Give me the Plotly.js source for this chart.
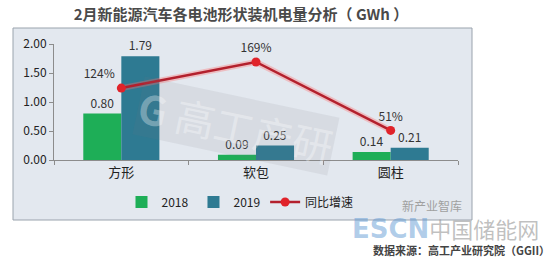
<!DOCTYPE html>
<html>
<head>
<meta charset="utf-8">
<script src="https://cdn.plot.ly/plotly-3.0.1.min.js"></script>
<style>
html,body{margin:0;padding:0;background:#fff;}
#chart{width:556px;height:257px;}
</style>
</head>
<body>
<div id="chart"></div>
<script>
const categories = ['方形', '软包', '圆柱'];
const values2018 = [0.80, 0.09, 0.14];
const values2019 = [1.79, 0.25, 0.21];
const growthPct = [124, 169, 51];
const yTicks = [0, 0.5, 1.0, 1.5, 2.0];

const FONT = '"Noto Sans CJK SC", "Noto Sans", sans-serif';

const traces = [
  {
    type: 'bar', name: '2018', x: categories, y: values2018,
    marker: {color: '#1eae57'},
    text: values2018.map(v => v.toFixed(2)), textposition: 'outside',
    textfont: {size: 12, color: '#333', family: FONT},
    cliponaxis: false, hoverinfo: 'skip'
  },
  {
    type: 'bar', name: '2019', x: categories, y: values2019,
    marker: {color: '#2e7a92'},
    text: values2019.map(v => v.toFixed(2)), textposition: 'outside',
    textfont: {size: 12, color: '#333', family: FONT},
    cliponaxis: false, hoverinfo: 'skip'
  },
  {
    type: 'scatter', mode: 'lines', x: categories, y: growthPct, yaxis: 'y2',
    line: {color: 'rgba(255,110,110,0.35)', width: 6},
    showlegend: false, hoverinfo: 'skip', cliponaxis: false
  },
  {
    type: 'scatter', mode: 'lines+markers+text', name: '同比增速',
    x: categories, y: growthPct, yaxis: 'y2',
    line: {color: '#b3202d', width: 2.5},
    marker: {color: '#e0232a', size: 9},
    text: growthPct.map(v => v + '%'),
    textposition: ['top left', 'top center', 'top center'],
    textfont: {size: 12, color: '#333', family: FONT},
    cliponaxis: false, hoverinfo: 'skip'
  }
];

const px = x => (x - 54) / 404;
const py = y => (160 - y) / 116;

const layout = {
  width: 556, height: 257,
  margin: {l: 54, r: 98, t: 44, b: 97},
  paper_bgcolor: '#ffffff',
  plot_bgcolor: 'rgba(0,0,0,0)',
  font: {family: FONT, color: '#333', size: 12},
  title: {
    text: '<b>2月新能源汽车各电池形状装机电量分析（ GWh ）</b>',
    font: {size: 15, color: '#4a4a4a', family: FONT},
    x: 241 / 556, xanchor: 'center', y: 1 - 15 / 257, yanchor: 'middle'
  },
  barmode: 'group', bargap: 0.435, bargroupgap: 0,
  xaxis: {
    showline: true, linecolor: '#8c8c8c', linewidth: 1,
    ticks: 'outside', tickson: 'boundaries', ticklen: 4, tickcolor: '#8c8c8c',
    tickfont: {size: 13, color: '#222', family: FONT},
    showgrid: false, zeroline: false, fixedrange: true
  },
  yaxis: {
    range: [0, 2], tickvals: yTicks, ticktext: yTicks.map(v => v.toFixed(2)),
    showline: true, linecolor: '#8c8c8c', linewidth: 1,
    ticks: 'outside', ticklen: 4, tickcolor: '#8c8c8c',
    tickfont: {size: 12, color: '#222', family: FONT},
    showgrid: false, zeroline: false, fixedrange: true
  },
  yaxis2: {
    overlaying: 'y', side: 'right', range: [0, 200], visible: false, fixedrange: true
  },
  legend: {
    orientation: 'h', x: px(240), xanchor: 'center', y: py(202), yanchor: 'middle',
    font: {size: 12, color: '#222', family: FONT}, bgcolor: 'rgba(0,0,0,0)',
    traceorder: 'normal', itemwidth: 30
  },
  shapes: [
    {
      type: 'rect', xref: 'paper', yref: 'paper', layer: 'below',
      x0: px(13), x1: px(472), y0: py(220), y1: py(28),
      fillcolor: '#e3e8ef', line: {color: '#9aa3ad', width: 1}
    }
  ],
  annotations: [
    {
      xref: 'paper', yref: 'paper', x: px(236), y: py(126),
      xanchor: 'center', yanchor: 'middle',
      text: '<b>G</b> 高工产研', showarrow: false, textangle: 12,
      font: {size: 40, color: 'rgba(255,255,255,0.32)', family: FONT},
      bgcolor: 'rgba(115,115,130,0.11)', borderpad: 0
    },
    {
      xref: 'paper', yref: 'paper', x: px(432), y: py(205),
      xanchor: 'center', yanchor: 'middle',
      text: '新产业智库', showarrow: false,
      font: {size: 12, color: '#a0a0a0', family: FONT}
    },
    {
      xref: 'paper', yref: 'paper', x: px(350), y: py(228),
      xanchor: 'left', yanchor: 'middle',
      text: '<span style="color:rgba(90,150,210,0.8);font-weight:bold;font-family:DejaVu Sans">ESCN</span><span style="font-size:22px">中国储能网</span>',
      showarrow: false,
      font: {size: 26, color: 'rgba(150,150,150,0.6)', family: FONT}
    },
    {
      xref: 'paper', yref: 'paper', x: px(552), y: py(250),
      xanchor: 'right', yanchor: 'middle',
      text: '<b>数据来源：高工产业研究院（GGII）</b>', showarrow: false,
      font: {size: 11, color: '#444', family: FONT}
    }
  ]
};

Plotly.newPlot('chart', traces, layout, {displayModeBar: false, staticPlot: true});
</script>
</body>
</html>
